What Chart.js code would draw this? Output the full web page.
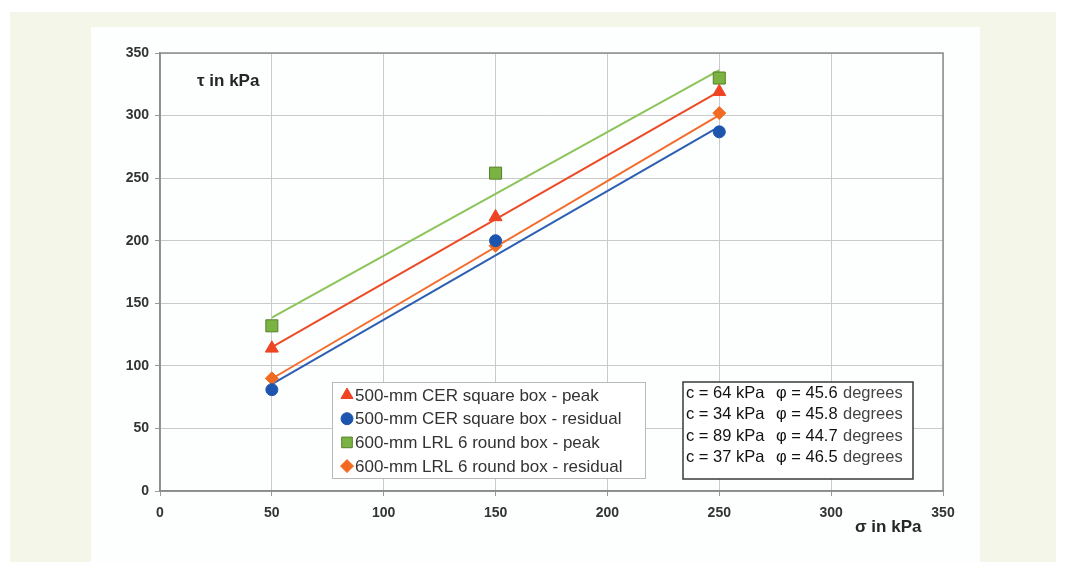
<!DOCTYPE html>
<html>
<head>
<meta charset="utf-8">
<script src="https://cdn.jsdelivr.net/npm/chart.js@4/dist/chart.umd.min.js"></script>
<style>
  html, body { margin: 0; padding: 0; background: #ffffff; }
  body { width: 1066px; height: 562px; position: relative; overflow: hidden; }
  #frame { position: absolute; left: 10px; top: 12px; width: 1046px; height: 550px; background: #f3f6e8; }
  #panel { position: absolute; left: 91px; top: 27px; width: 889px; height: 535px; background: #fdfefe; }
  #chart { position: absolute; left: 0; top: 0; }
</style>
</head>
<body>
<div id="frame"></div>
<div id="panel"><canvas id="chart" width="889" height="533"></canvas></div>
<script>
// Normal stress levels of the direct shear tests (kPa)
const sigma = [50, 150, 250];

// Measured shear strength at each normal stress (kPa)
const cerPeak = [114, 219, 319];
const cerResidual = [81, 200, 287];
const lrlPeak = [132, 254, 330];
const lrlResidual = [90, 196, 302];

const seriesNames = [
  '500-mm CER square box - peak',
  '500-mm CER square box - residual',
  '600-mm LRL 6 round box - peak',
  '600-mm LRL 6 round box - residual'
];

// Mohr-Coulomb parameters of the fitted envelopes
const cohesion = [64, 34, 89, 37];
const frictionAngle = [45.6, 45.8, 44.7, 46.5];

const axisTicks = [0, 50, 100, 150, 200, 250, 300, 350];

const seriesValues = [cerPeak, cerResidual, lrlPeak, lrlResidual];
const markerStyles = [
  { shape: 'triangle', radius: 7.5, fill: '#ee4424', stroke: '#ee4424' },
  { shape: 'circle', radius: 6, fill: '#1d55ae', stroke: '#1d55ae' },
  { shape: 'rect', radius: 8.5, fill: '#7bb342', stroke: '#557f2c' },
  { shape: 'rectRot', radius: 6.5, fill: '#f26a22', stroke: '#f26a22' }
];
const lineColors = ['#ed4a27', '#2c5fb2', '#8cc45a', '#f36c2c'];

const sMin = Math.min(...sigma);
const sMax = Math.max(...sigma);

const datasets = [];
seriesValues.forEach((vals, i) => {
  const m = markerStyles[i];
  datasets.push({
    label: seriesNames[i],
    data: sigma.map((s, k) => ({ x: s, y: vals[k] })),
    showLine: false,
    pointStyle: m.shape,
    pointRadius: m.radius,
    pointHoverRadius: m.radius,
    pointBackgroundColor: m.fill,
    pointBorderColor: m.stroke,
    pointBorderWidth: 1,
    order: 1
  });
});
// Envelope lines tau = c + sigma * tan(phi)
cohesion.forEach((c, i) => {
  const t = Math.tan(frictionAngle[i] * Math.PI / 180);
  datasets.push({
    label: 'envelope ' + i,
    data: [{ x: sMin, y: c + sMin * t }, { x: sMax, y: c + sMax * t }],
    showLine: true,
    borderColor: lineColors[i],
    borderWidth: 2,
    pointRadius: 0,
    fill: false,
    order: 2
  });
});

const FONT = '"Liberation Sans", Arial, sans-serif';

const overlay = {
  id: 'overlay',
  beforeDatasetsDraw(chart) {
    const { ctx, chartArea: a } = chart;
    ctx.save();
    ctx.strokeStyle = '#8c8c8c';
    ctx.lineWidth = 1.5;
    ctx.strokeRect(a.left, a.top, a.right - a.left, a.bottom - a.top);
    ctx.restore();
  },
  afterDatasetsDraw(chart) {
    const { ctx } = chart;
    ctx.save();

    // axis titles
    ctx.fillStyle = '#262626';
    ctx.font = 'bold 17px ' + FONT;
    ctx.textBaseline = 'middle';
    ctx.textAlign = 'left';
    ctx.fillText('\u03c4 in kPa', 106, 54);
    ctx.fillText('\u03c3 in kPa', 764, 500);

    // series key
    const lx = 241, ly = 355, lw = 313, lh = 96;
    ctx.fillStyle = '#ffffff';
    ctx.fillRect(lx, ly, lw, lh);
    ctx.strokeStyle = '#b9b9b9';
    ctx.lineWidth = 1;
    ctx.strokeRect(lx + 0.5, ly + 0.5, lw, lh);
    ctx.font = '17px ' + FONT;
    ctx.textBaseline = 'middle';
    seriesNames.forEach((name, i) => {
      const y = ly + 13 + i * 23.7;
      const m = markerStyles[i];
      const r = m.shape === 'rect' ? 7.5 : m.shape === 'triangle' ? 7 : m.radius;
      ctx.fillStyle = m.fill;
      ctx.strokeStyle = m.stroke;
      ctx.lineWidth = 1;
      Chart.helpers.drawPoint(ctx, { pointStyle: m.shape, radius: r, borderWidth: 1 }, lx + 15, y);
      ctx.fillStyle = '#333333';
      ctx.fillText(name, lx + 23, y + 1);
    });

    // parameter box
    const bx = 592, by = 355, bw = 230, bh = 97;
    ctx.fillStyle = '#ffffff';
    ctx.fillRect(bx, by, bw, bh);
    ctx.strokeStyle = '#3a3a3a';
    ctx.lineWidth = 1.5;
    ctx.strokeRect(bx, by, bw, bh);
    ctx.font = '16.5px ' + FONT;
    cohesion.forEach((c, i) => {
      const y = by + 11 + i * 21.5;
      ctx.fillStyle = '#111111';
      ctx.fillText('c = ' + c + ' kPa', bx + 3, y);
      ctx.fillText('\u03c6 = ' + frictionAngle[i].toFixed(1), bx + 93, y);
      ctx.fillStyle = '#444444';
      ctx.fillText('degrees', bx + 160, y);
    });
    ctx.restore();
  }
};

new Chart(document.getElementById('chart'), {
  type: 'scatter',
  data: { datasets },
  options: {
    responsive: false,
    animation: false,
    devicePixelRatio: 1,
    layout: { padding: { top: 26, right: 37, left: 0, bottom: 0 } },
    plugins: { legend: { display: false }, tooltip: { enabled: false } },
    scales: {
      x: {
        type: 'linear',
        min: axisTicks[0],
        max: axisTicks[axisTicks.length - 1],
        afterBuildTicks: s => { s.ticks = axisTicks.map(v => ({ value: v })); },
        afterFit: s => { s.height = 69; },
        grid: { color: '#cacaca', lineWidth: 1, tickLength: 5, tickColor: '#9a9a9a' },
        border: { color: '#8c8c8c', width: 1.5 },
        ticks: { padding: 9, color: '#333333', font: { family: FONT, size: 14, weight: 'bold' } }
      },
      y: {
        type: 'linear',
        min: axisTicks[0],
        max: axisTicks[axisTicks.length - 1],
        afterBuildTicks: s => { s.ticks = axisTicks.map(v => ({ value: v })); },
        afterFit: s => { s.width = 69; },
        grid: { color: '#cacaca', lineWidth: 1, tickLength: 5, tickColor: '#9a9a9a' },
        border: { color: '#8c8c8c', width: 1.5 },
        ticks: { padding: 6, color: '#333333', font: { family: FONT, size: 14, weight: 'bold' } }
      }
    }
  },
  plugins: [overlay]
});
</script>
</body>
</html>
